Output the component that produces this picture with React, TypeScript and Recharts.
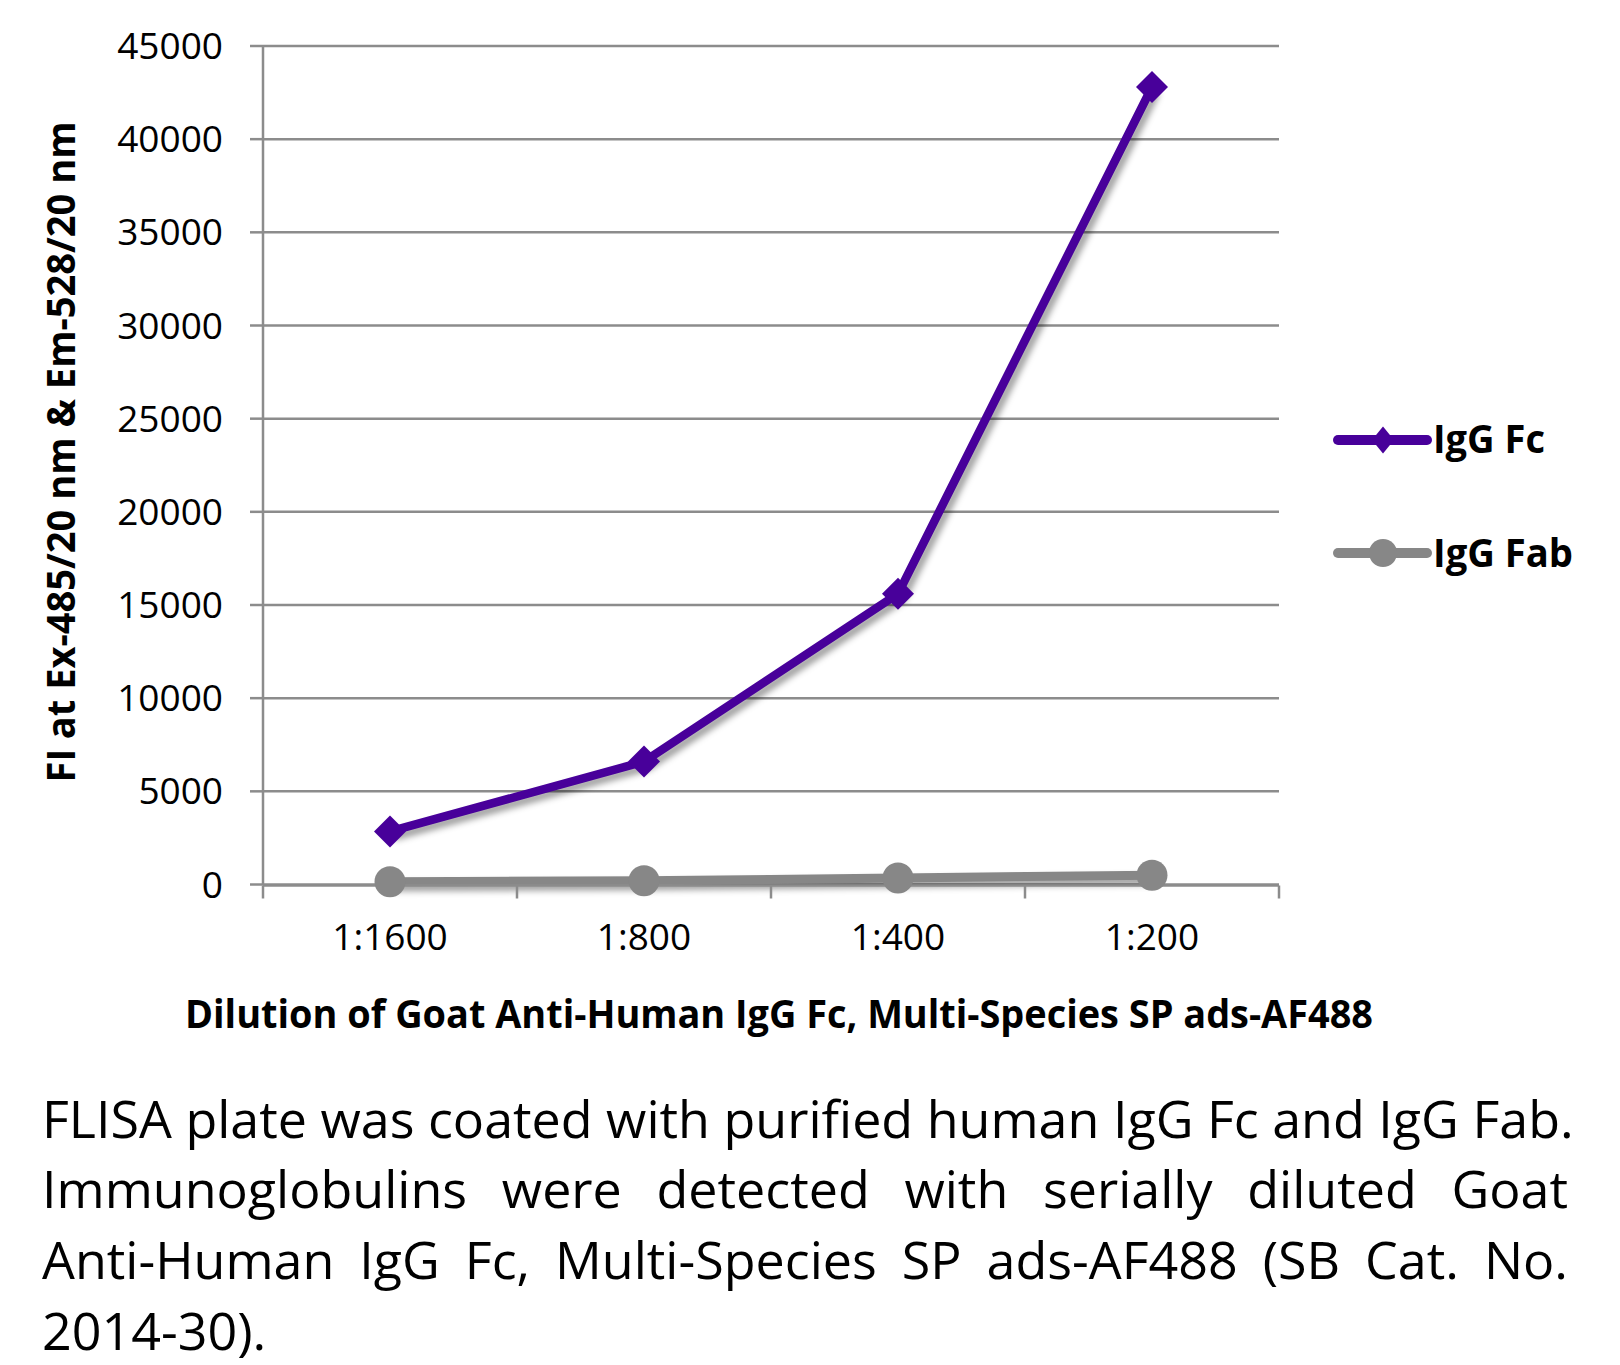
import React from 'react';
import { LineChart, Line, XAxis, YAxis, CartesianGrid } from 'recharts';

const categories = ['1:1600', '1:800', '1:400', '1:200'];
const iggFcValues = [2850, 6600, 15600, 42800];
const iggFabValues = [150, 200, 350, 500];
const yTicks = [0, 5000, 10000, 15000, 20000, 25000, 30000, 35000, 40000, 45000];
const edgeTicks = [0, 1, 2, 3, 4];
const seriesNames = ['IgG Fc', 'IgG Fab'];

const xTitle = 'Dilution of Goat Anti-Human IgG Fc, Multi-Species SP ads-AF488';
const yTitle = 'FI at Ex-485/20 nm & Em-528/20 nm';
const captionLines = [
  'FLISA plate was coated with purified human IgG Fc and IgG Fab.',
  'Immunoglobulins were detected with serially diluted Goat',
  'Anti-Human IgG Fc, Multi-Species SP ads-AF488 (SB Cat. No.',
  '2014-30).',
];

const data = categories.map((c, i) => ({ dilution: c, fc: iggFcValues[i], fab: iggFabValues[i] }));

const PURPLE = '#48009a';
const GRAY = '#878787';
const GRID = '#8c8c8c';
const FONT = "'Open Sans', sans-serif";

const Diamond = (props: any) => {
  const { cx, cy, index } = props;
  if (cx == null || cy == null) return null;
  const h = 16;
  return (
    <path
      key={`d-${index}`}
      d={`M${cx},${cy - h}L${cx + h},${cy}L${cx},${cy + h}L${cx - h},${cy}Z`}
      fill={PURPLE}
    />
  );
};

const renderXTitle = () => (
  <text
    x={779}
    y={1028}
    textAnchor="middle"
    fontFamily={FONT}
    fontWeight={700}
    fontSize={40}
    fill="#000"
    textLength={1188}
    lengthAdjust="spacingAndGlyphs"
  >
    {xTitle}
  </text>
);

const renderYTitle = () => (
  <text
    x={75}
    y={452}
    transform="rotate(-90 75 452)"
    textAnchor="middle"
    fontFamily={FONT}
    fontWeight={700}
    fontSize={40}
    fill="#000"
    textLength={661}
    lengthAdjust="spacingAndGlyphs"
  >
    {yTitle}
  </text>
);

const Legendbox = () => (
  <svg
    width={300}
    height={220}
    style={{ position: 'absolute', left: 1320, top: 380, overflow: 'visible' }}
  >
    <g transform="translate(-1320,-380)">
      <line x1={1338} y1={440} x2={1427} y2={440} stroke={PURPLE} strokeWidth={10} strokeLinecap="round" />
      <path d="M1383,426.5L1394,440L1383,453.5L1372,440Z" fill={PURPLE} />
      <text x={1433} y={453} fontFamily={FONT} fontWeight={700} fontSize={39} fill="#000" textLength={112} lengthAdjust="spacingAndGlyphs">
        {seriesNames[0]}
      </text>
      <line x1={1338} y1={553} x2={1427} y2={553} stroke={GRAY} strokeWidth={10} strokeLinecap="round" />
      <circle cx={1383} cy={553} r={14} fill={GRAY} />
      <text x={1433} y={567} fontFamily={FONT} fontWeight={700} fontSize={39} fill="#000" textLength={140} lengthAdjust="spacingAndGlyphs">
        {seriesNames[1]}
      </text>
    </g>
  </svg>
);

const CAPTION_W = 1526;

export default function App() {
  return (
    <div style={{ position: 'relative', width: 1620, height: 1365, background: '#fff', overflow: 'hidden' }}>
      <style>{`body{margin:0;} .shadowed{filter: drop-shadow(4px 5px 3px rgba(0,0,0,0.38));}`}</style>
      <div style={{ position: 'absolute', left: 0, top: 0 }}>
        <LineChart
          width={1620}
          height={1060}
          data={data}
          margin={{ top: 46, right: 341, bottom: 173.5, left: 200 }}
        >
          <CartesianGrid vertical={false} stroke={GRID} strokeWidth={2.5} />
          <XAxis
            xAxisId="edges"
            type="number"
            dataKey={() => 2}
            domain={[0, 4]}
            ticks={edgeTicks}
            allowDataOverflow
            height={1}
            tick={{ fill: 'none', fontSize: 1 }}
            tickFormatter={() => ''}
            tickSize={13}
            tickLine={{ stroke: GRID, strokeWidth: 2.5 }}
            axisLine={{ stroke: GRID, strokeWidth: 2.5 }}
          />
          <XAxis
            dataKey="dilution"
            scale="band"
            height={1}
            tickLine={false}
            axisLine={false}
            tickSize={0}
            tickMargin={39}
            interval={0}
            tick={{ fill: '#000', fontSize: 37, fontFamily: FONT }}
            label={renderXTitle}
          />
          <YAxis
            width={63}
            domain={[0, 45000]}
            ticks={yTicks}
            interval={0}
            tickSize={13}
            tickMargin={27}
            tickLine={{ stroke: GRID, strokeWidth: 2.5 }}
            axisLine={{ stroke: GRID, strokeWidth: 2.5 }}
            tick={{ fill: '#000', fontSize: 37, fontFamily: FONT }}
            label={renderYTitle}
          />
          <Line
            className="shadowed"
            dataKey="fab"
            name={seriesNames[1]}
            stroke={GRAY}
            strokeWidth={9}
            dot={{ r: 15.5, fill: GRAY, stroke: 'none' }}
            activeDot={false}
            isAnimationActive={false}
          />
          <Line
            className="shadowed"
            dataKey="fc"
            name={seriesNames[0]}
            stroke={PURPLE}
            strokeWidth={8.5}
            dot={Diamond}
            activeDot={false}
            isAnimationActive={false}
          />
        </LineChart>
      </div>
      <Legendbox />
      <div
        style={{
          position: 'absolute',
          left: 42,
          top: 1082.5,
          width: CAPTION_W,
          fontFamily: FONT,
          fontSize: 52,
          lineHeight: '70.8px',
          color: '#000',
        }}
      >
        {captionLines.map((l, i) => (
          <div
            key={i}
            style={{
              whiteSpace: i === 0 || i === captionLines.length - 1 ? 'nowrap' : 'normal',
              textAlign: i < captionLines.length - 1 ? 'justify' : 'left',
              textAlignLast: i > 0 && i < captionLines.length - 1 ? 'justify' : 'left',
            }}
          >
            {l}
          </div>
        ))}
      </div>
    </div>
  );
}
